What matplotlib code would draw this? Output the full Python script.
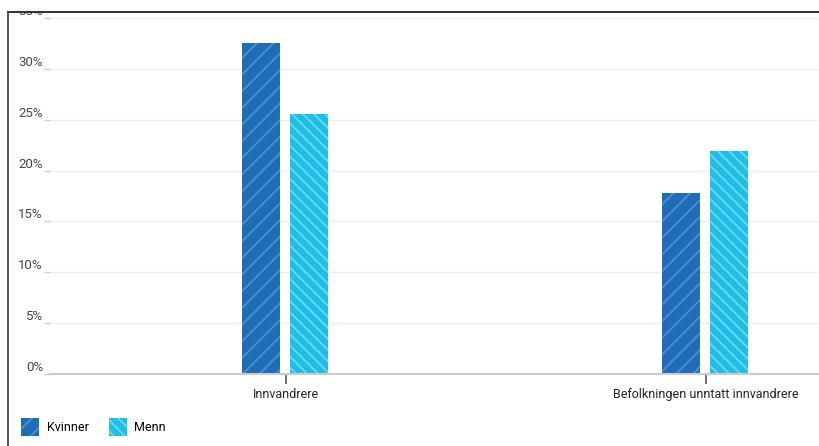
import numpy as np
import matplotlib.pyplot as plt
from matplotlib.patches import Rectangle
from matplotlib.lines import Line2D

plt.rcParams['font.family'] = ['Roboto', 'DejaVu Sans']
plt.rcParams['hatch.linewidth'] = 1.3

# data
categories = ["Innvandrere", "Befolkningen unntatt innvandrere"]
kvinner = [32.5, 17.8]
menn = [25.6, 21.9]
yticks = [0, 5, 10, 15, 20, 25, 30, 35]

fig = plt.figure(figsize=(8.2, 4.46), dpi=100)
W, H = 820, 446
ax = fig.add_axes([50 / W, (H - 374) / H, (818 - 50) / W, (374 - 18) / H])

x = np.arange(len(categories))
bw = 0.09
c_kv = "#1f6db7"
c_mn = "#1dbfe6"

b1 = ax.bar(x - 0.0595, kvinner, bw, color=c_kv, edgecolor="#4f8fd0", linewidth=0,
            hatch="//", zorder=3)
b2 = ax.bar(x + 0.055, menn, bw, color=c_mn, edgecolor="#72d6f0", linewidth=0,
            hatch="\\\\\\", zorder=3)

ax.set_xlim(-0.562, 1.267)
ax.set_ylim(0, 35)

ax.set_yticks(yticks)
ax.set_yticklabels([f"{v}%" for v in yticks], fontsize=9.5, color="#444444")
for lab in ax.get_yticklabels():
    lab.set_verticalalignment("bottom")
ax.tick_params(axis="y", length=4, color="#cccccc", pad=1, width=1)
ax.grid(axis="y", color="#eeeeee", linewidth=1, zorder=0)

ax.set_xticks(x)
ax.set_xticklabels(categories, fontsize=9, color="#222222")
ax.tick_params(axis="x", length=7, color="#555555", width=1.2, pad=3)

for s in ["top", "right", "left"]:
    ax.spines[s].set_visible(False)
ax.spines["bottom"].set_color("#cccccc")
ax.spines["bottom"].set_linewidth(1.5)
ax.spines["bottom"].set_zorder(4)

# legend
leg = ax.legend([b1, b2], ["Kvinner", "Menn"], loc="lower left",
                bbox_to_anchor=(-40 / 768, -66 / 356 - 0.02), ncol=2, frameon=False,
                fontsize=9, handlelength=1.45, handleheight=1.8, columnspacing=1.6,
                handletextpad=0.6)

# frame lines and white band at the top
fig.add_artist(Rectangle((0, (H - 12) / H), 1, 12 / H, transform=fig.transFigure,
                         facecolor="white", edgecolor="none", zorder=10))
fig.add_artist(Line2D([8 / W, 1], [(H - 12) / H, (H - 12) / H], transform=fig.transFigure,
                      color="#222222", linewidth=1.3, zorder=11))
fig.add_artist(Line2D([8 / W, 8 / W], [0, (H - 12) / H], transform=fig.transFigure,
                      color="#444444", linewidth=1.3, zorder=11))

fig.savefig("out.png", dpi=100)
